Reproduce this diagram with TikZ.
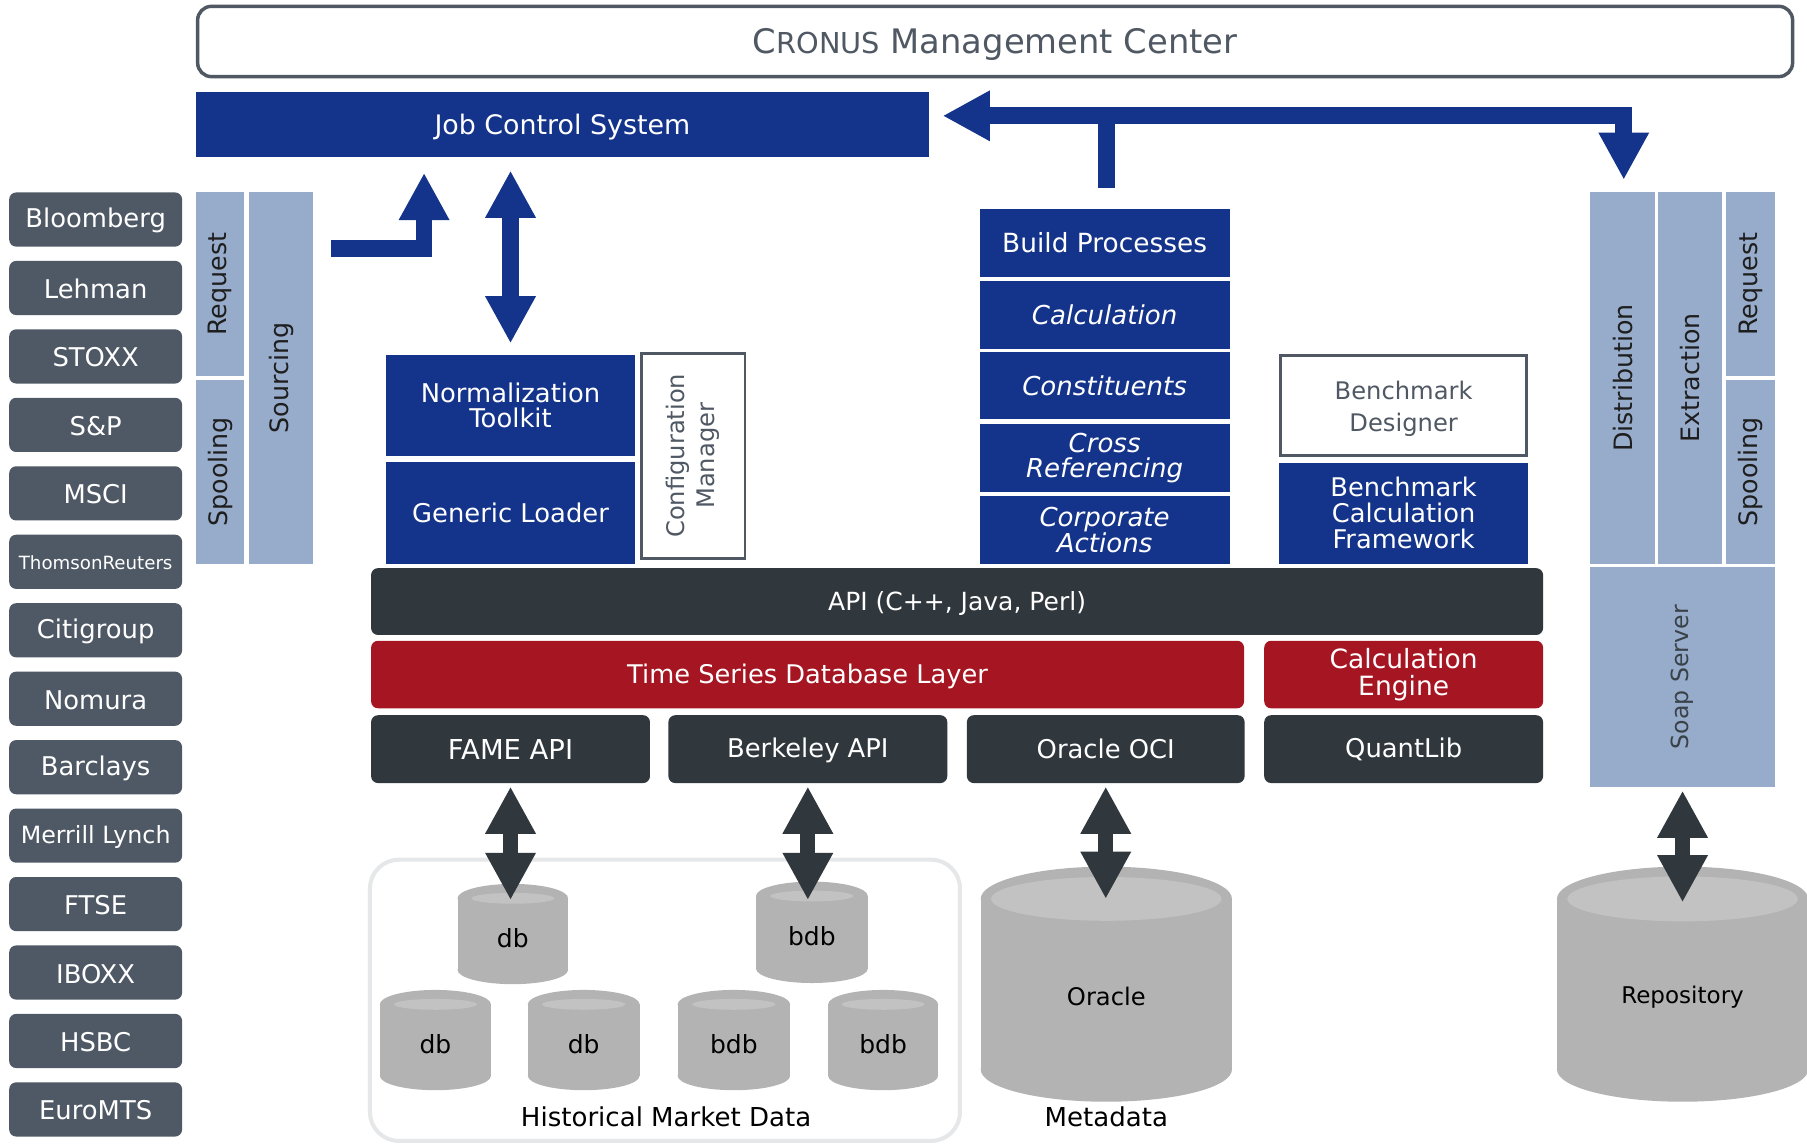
\documentclass[tikz,border=0pt]{standalone}
\usepackage{fontspec}
\setmainfont{DejaVu Sans}
\usepackage{graphicx}
\usetikzlibrary{arrows.meta,calc}
\definecolor{navy}{HTML}{14338A}
\definecolor{lblue}{HTML}{97ACCB}
\definecolor{dark}{HTML}{30373D}
\definecolor{crimson}{HTML}{A51522}
\definecolor{vend}{HTML}{4F5965}
\definecolor{cylg}{HTML}{B3B3B3}
\definecolor{cyll}{HTML}{C2C2C2}
\definecolor{frameg}{HTML}{4F5863}
\definecolor{contg}{HTML}{E6E7E8}
\definecolor{soapt}{HTML}{394248}
\definecolor{coltext}{HTML}{1E1E1E}
\newcommand\fsz[2]{\fontsize{#1}{#2}\selectfont}
\newcommand\lowr[2]{\raisebox{-#1}[\height][\depth]{#2}}
\newcommand\bx[7]{%
  \pgfmathsetmacro\bxcx{(#3+#5)/2}%
  \pgfmathsetmacro\bxcy{(#4+#6)/2}%
  \pgfmathsetmacro\bxw{#5-#3}%
  \pgfmathsetmacro\bxh{#6-#4}%
  \node[#1, minimum width=\bxw pt, minimum height=\bxh pt] (#2) at (\bxcx,\bxcy) {#7};%
}
% name, x1, y1, x2, y2, ry, inner rx, inner ry, label
\newcommand\cyl[9]{%
  \pgfmathsetmacro\cya{(#2+#4)/2}%
  \pgfmathsetmacro\cyb{(#4-#2)/2}%
  \pgfmathsetmacro\cyc{(#3+#6+#5)/2-3}%
  \fill[cylg] (#2,#3+#6) rectangle (#4,#5-#6);
  \fill[cylg] (\cya,#3+#6) ellipse[x radius=\cyb pt, y radius=#6pt];
  \fill[cylg] (\cya,#5-#6) ellipse[x radius=\cyb pt, y radius=#6pt];
  \fill[cyll] (\cya,#3+#6) ellipse[x radius=#7pt, y radius=#8pt];
  \bx{}{#1}{#2}{#3}{#4}{#5}{}%
  \node[cyllabel] (#1-lab) at (\cya,\cyc) {#9};%
}
\begin{document}
\begin{tikzpicture}[x=1pt,y=-1pt,
  every node/.style={inner sep=0pt, outer sep=0pt},
  navybox/.style={fill=navy, text=white, align=center, font=\fsz{22.4}{22}},
  ital/.style={font=\fsz{22.6}{21.5}\itshape},
  lbbox/.style={fill=lblue, text=coltext, font=\fsz{22}{26}},
  darkbar/.style={fill=dark, text=white, rounded corners=6pt, align=center, font=\fsz{22.4}{22}},
  redbar/.style={fill=crimson, text=white, rounded corners=6pt, align=center, font=\fsz{23}{23}},
  vendor/.style={fill=vend, text=white, rounded corners=6pt, font=\fsz{22.4}{22}},
  wbox/.style={draw=frameg, line width=2.5pt, fill=white, text=frameg, align=center},
  container/.style={draw=contg, line width=3.5pt, rounded corners=25pt},
  cyllabel/.style={text=black, font=\fsz{21.7}{22}},
  bluearrow/.style={draw=navy, line width=14.5pt},
  darkarrow/.style={draw=dark, line width=13pt, {Triangle[length=41pt,width=41pt]}-{Triangle[length=41pt,width=41pt]}},
  tipB/.style={-{Triangle[length=41pt,width=41pt]}},
  tipBB/.style={{Triangle[length=41pt,width=41pt]}-{Triangle[length=41pt,width=41pt]}},
]
\useasboundingbox (0,0) rectangle (1568,992);
\fill[white] (0,0) rectangle (1568,992);

% Management center
\bx{wbox, rounded corners=12pt, line width=3pt}{cmc}{171.5}{5.5}{1555.5}{66.5}{\lowr{3pt}{\fsz{29.3}{30}C\fsz{25}{30}RONUS\fsz{29.3}{30} Management Center}}
% Job control
\bx{navybox, font=\fsz{23.3}{22}}{jcs}{170}{80}{806}{136}{\lowr{2pt}{Job Control System}}

% vendors
\foreach \nm/\lab [count=\i from 0] in {bloomberg/Bloomberg, lehman/Lehman, stoxx/STOXX, snp/S\&P, msci/MSCI, thomson/{\fsz{15.8}{16}ThomsonReuters}, citi/Citigroup, nomura/Nomura, barclays/Barclays, merrill/{\fsz{20.6}{21}Merrill Lynch}, ftse/FTSE, iboxx/IBOXX, hsbc/HSBC, euromts/EuroMTS}{
  \pgfmathsetmacro\vndA{167+59.4*\i}
  \pgfmathsetmacro\vndB{\vndA+47}
  \bx{vendor}{\nm}{8}{\vndA}{158}{\vndB}{\lowr{1pt}{\lab}}
}

% left columns
\bx{lbbox}{reqL}{170}{167}{212}{326}{\rotatebox{90}{Request}}
\bx{lbbox}{spoolL}{170}{330}{212}{489}{\rotatebox{90}{Spooling}}
\bx{lbbox}{srcL}{216}{167}{272}{489}{\rotatebox{90}{Sourcing}}

% normalization block
\bx{navybox}{norm}{335}{308}{551}{396}{Normalization\\Toolkit}
\bx{navybox}{gload}{335}{401}{551}{489}{Generic Loader}
\bx{wbox, font=\fsz{21}{26}}{cfg}{556.5}{306.5}{646.5}{484.5}{\rotatebox{90}{\begin{tabular}{@{}c@{}}Configuration\\Manager\end{tabular}}}

% build column
\bx{navybox, font=\fsz{22.9}{22}}{bp}{850}{181.5}{1067}{240}{Build Processes}
\bx{navybox, ital}{calc}{850}{244}{1067}{303}{Calculation}
\bx{navybox, ital}{const}{850}{305.6}{1067}{364}{Constituents}
\bx{navybox, ital}{xref}{850}{368}{1067}{427}{Cross\\Referencing}
\bx{navybox, ital}{corp}{850}{430.5}{1067}{489}{Corporate\\Actions}

% benchmark
\bx{wbox, font=\fsz{21}{27.6}}{bmd}{1111.5}{308.5}{1324.5}{395}{\lowr{3pt}{\begin{tabular}{@{}c@{}}Benchmark\\Designer\end{tabular}}}
\bx{navybox, font=\fsz{22.3}{22.7}}{bcf}{1110}{401.5}{1326}{489}{Benchmark\\Calculation\\Framework}

% right columns
\bx{lbbox}{dist}{1380}{167}{1436}{489}{\rotatebox{90}{Distribution}}
\bx{lbbox}{extr}{1439}{167}{1494}{489}{\rotatebox{90}{Extraction}}
\bx{lbbox}{reqR}{1498}{167}{1540}{326}{\rotatebox{90}{Request}}
\bx{lbbox}{spoolR}{1498}{330}{1540}{489}{\rotatebox{90}{Spooling}}
\bx{lbbox, text=soapt, font=\fsz{20.5}{22}}{soap}{1380}{492}{1540}{683}{\rotatebox{90}{Soap Server}}

% layers
\bx{darkbar, font=\fsz{21.7}{22}}{api}{322}{493}{1339}{551}{\lowr{2pt}{API (C++, Java, Perl)}}
\bx{redbar, font=\fsz{22.3}{22}}{tsdb}{322}{556}{1079.5}{614.6}{\lowr{2pt}{Time Series Database Layer}}
\bx{redbar}{ceng}{1097}{556}{1339}{614.6}{Calculation\\Engine}
\bx{darkbar, font=\fsz{23.8}{22}}{fame}{322}{620.6}{564}{679.5}{FAME API}
\bx{darkbar}{berk}{580}{620.6}{822}{679.5}{\lowr{1.5pt}{Berkeley API}}
\bx{darkbar}{oci}{839}{620.6}{1080}{679.5}{Oracle OCI}
\bx{darkbar}{qlib}{1097}{620.6}{1339}{679.5}{QuantLib}

% historical market data container
\bx{container}{hmd}{321}{746}{833}{990}{}
\node[cyllabel, font=\fsz{22.6}{22}] (hmdlab) at (578,969) {Historical Market Data};

% cylinders
\cyl{dbA}{397}{767}{493}{854}{12.5}{36}{4.7}{db}
\cyl{bdbA}{656}{765}{753}{853}{12.5}{36}{4.7}{bdb}
\cyl{dbB}{329.6}{859}{426}{946}{12.5}{36}{4.7}{db}
\cyl{dbC}{458}{859}{555}{946}{12.5}{36}{4.7}{db}
\cyl{bdbB}{588}{859}{685.6}{946}{12.5}{36}{4.7}{bdb}
\cyl{bdbC}{718.6}{859}{814}{946}{12.5}{36}{4.7}{bdb}
\cyl{oracle}{851}{752}{1069}{956}{28}{100}{19}{\fsz{21}{22}Oracle}
\cyl{repo}{1351}{752}{1569}{956}{28}{100}{19.5}{\fsz{20}{22}Repository}
\node[cyllabel, font=\fsz{22.6}{22}] (metalab) at (960,969) {Metadata};

% dark double arrows
\draw[darkarrow] ($(fame.south)+(0,3)$) -- ($(fame.south |- dbA.north)+(0,14)$);
\draw[darkarrow] ($(berk.south)+(0,3)$) -- ($(berk.south |- bdbA.north)+(0,16)$);
\draw[darkarrow] ($(oci.south)+(0,3)$) -- ($(oci.south |- oracle.north)+(0,28)$);
\draw[darkarrow] ($(soap.south)+(0,3)$) -- ($(soap.south |- repo.north)+(0,31)$);

% blue arrows
\draw[bluearrow, tipBB] ($(jcs.south -| norm.north)+(0,12)$) -- ($(norm.north)+(0,-10)$);
\coordinate (elb) at (287,215.5);
\coordinate (elbtip) at ($(jcs.south)+(-120,14)$);
\draw[bluearrow, tipB] (elb) -| (elbtip);
\coordinate (tL) at ($(jcs.east)+(12,-7.5)$);
\coordinate (tR) at ($(dist.north)+(1,-11)$);
\draw[bluearrow] ($(bp.north)+(1.5,-18.5)$) -- ($(bp.north |- tL)+(1.5,0)$);
\draw[bluearrow, tipBB] (tL) -- (tL -| tR) -- (tR);
\end{tikzpicture}
\end{document}
